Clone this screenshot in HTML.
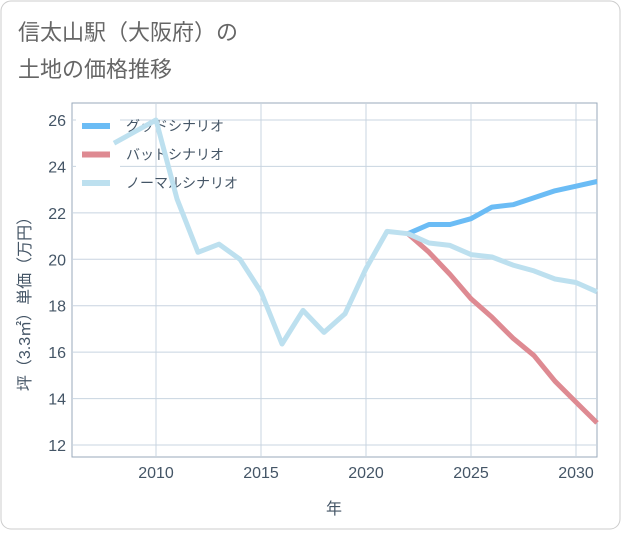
<!DOCTYPE html>
<html><head><meta charset="utf-8"><style>
body{margin:0;background:#fff;font-family:"Liberation Sans","Noto Sans CJK JP",sans-serif;}
#wrap{position:relative;width:621px;height:530px;}
</style></head><body>
<div id="wrap">
<svg id="svg" width="621" height="530" xmlns="http://www.w3.org/2000/svg">
<rect x="1" y="1" width="619" height="528" rx="10" fill="#fff" stroke="#ccc"/>
<text x="18" y="40" font-size="22" fill="#666">信太山駅（大阪府）の</text>
<text x="18" y="77" font-size="22" fill="#666">土地の価格推移</text>
<g id="grid"></g>
<g id="legend"></g>
<g id="lines"></g>
<text x="334" y="514" font-size="16" fill="#445566" text-anchor="middle">年</text>
<text transform="translate(30,300) rotate(-90)" font-size="16" fill="#445566" text-anchor="middle">坪（3.3㎡）単価（万円）</text>
</svg>
</div>
<script>
const years=[2008,2009,2010,2011,2012,2013,2014,2015,2016,2017,2018,2019,2020,2021,2022,2023,2024,2025,2026,2027,2028,2029,2030,2031];
const normal=[25.0,25.5,26.0,22.6,20.3,20.65,20.0,18.6,16.35,17.8,16.85,17.65,19.6,21.2,21.1,20.7,20.6,20.2,20.1,19.75,19.5,19.15,19.0,18.6];
const futureYears=[2022,2023,2024,2025,2026,2027,2028,2029,2030,2031];
const good=[21.1,21.5,21.5,21.75,22.25,22.35,22.65,22.95,23.15,23.35];
const bad=[21.1,20.3,19.35,18.3,17.5,16.6,15.85,14.75,13.85,12.95];
const xTicks=[2010,2015,2020,2025,2030];
const yTicks=[12,14,16,18,20,22,24,26];
const X0=72,X1=597,Y0=103,Y1=457;
const xs=v=>156+(v-2010)*21;
const ys=v=>445-(v-12)*(325/14);
const NS="http://www.w3.org/2000/svg";
function mk(t,a,p){const e=document.createElementNS(NS,t);for(const k in a)e.setAttribute(k,a[k]);p.appendChild(e);return e;}
const grid=document.getElementById('grid');
const bg=mk('rect',{x:X0,y:Y0,width:X1-X0,height:Y1-Y0,fill:'#fff',stroke:'#99aabb','stroke-width':1},grid);


yTicks.forEach(v=>{
 const l=mk('line',{x1:X0,x2:X1,y1:ys(v),y2:ys(v),stroke:'#c8d4e0'},grid);
 
 
 const t=mk('text',{x:66,y:ys(v)+6,'font-size':16,fill:'#445566','text-anchor':'end'},grid);
 t.textContent=v;
 
 
});
xTicks.forEach(v=>{
 const l=mk('line',{x1:xs(v),x2:xs(v),y1:Y0,y2:Y1,stroke:'#c8d4e0'},grid);
 
 
 const t=mk('text',{x:xs(v),y:478,'font-size':16,fill:'#445566','text-anchor':'middle'},grid);
 t.textContent=v;
 
 
});
const lg=document.getElementById('legend');
const lbg=mk('rect',{x:76,y:110,width:44,height:88,fill:'#fff'},lg);


[['グッドシナリオ','#6bbcf5'],['バッドシナリオ','#de8a92'],['ノーマルシナリオ','#bde0ef']].forEach((e,i)=>{
 const y=126+i*28.5;
 const l=mk('line',{x1:82,x2:110,y1:y,y2:y,stroke:e[1],'stroke-width':6},lg);
 
 
 const t=mk('text',{x:126,y:y+5,'font-size':14,fill:'#445566'},lg);
 t.textContent=e[0];
 
 
});
const lines=document.getElementById('lines');
function series(xv,yv,color,name){
 const d=xv.map((x,i)=>(i?'L':'M')+xs(x).toFixed(1)+','+ys(yv[i]).toFixed(1)).join('');
 const p=mk('path',{d:d,fill:'none',stroke:color,'stroke-width':5,'stroke-linejoin':'round'},lines);
 
 
}
series(futureYears,good,'#6bbcf5','good-scenario-line');
series(futureYears,bad,'#de8a92','bad-scenario-line');
series(years,normal,'#bde0ef','normal-scenario-line');
</script>
</body></html>
